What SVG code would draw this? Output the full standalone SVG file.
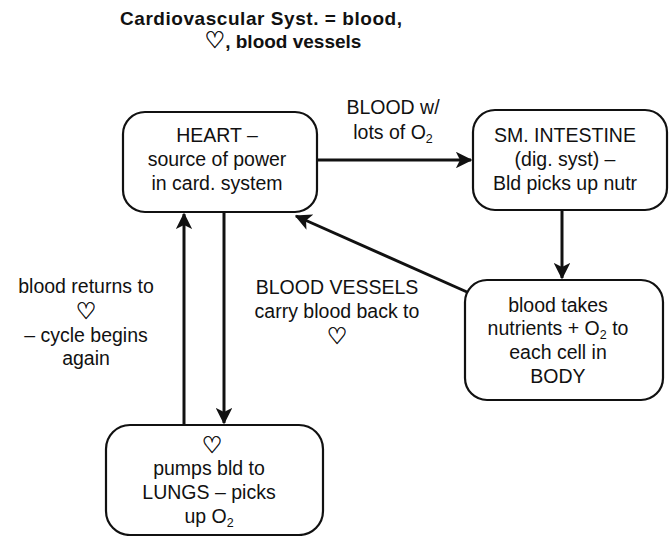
<svg xmlns="http://www.w3.org/2000/svg" width="670" height="536" viewBox="0 0 670 536">
<style>
.box{fill:#fff;stroke:#111;stroke-width:2.2}
.t{font-family:"Liberation Sans",Arial,sans-serif;font-size:19.5px;fill:#111;text-anchor:middle}
.ttl{font-family:"Liberation Sans",Arial,sans-serif;font-size:19px;font-weight:bold;fill:#111;text-anchor:middle}
.h{font-family:"DejaVu Sans",sans-serif;font-size:23px;stroke:#111;stroke-width:0.5}
.sub{font-size:12.5px}
.c{fill:none;stroke:#111;stroke-width:3}
</style>
<defs>
<marker id="ah" viewBox="0 0 12 12" refX="11" refY="6" markerWidth="5.5" markerHeight="5.5" orient="auto" markerUnits="strokeWidth">
<path d="M0,0 L12,6 L0,12 L3,6 Z" fill="#111"/>
</marker>
</defs>
<rect width="670" height="536" fill="#fff"/>
<g id="title">
<text class="ttl" x="261" y="25" textLength="282" lengthAdjust="spacing">Cardiovascular Syst. = blood,</text>
<text class="ttl" x="283" y="48"><tspan class="h" font-weight="normal">♡</tspan>, blood vessels</text>
</g>
<g id="connectors">
<line class="c" x1="317" y1="160" x2="471" y2="160" marker-end="url(#ah)"/>
<line class="c" x1="562" y1="210" x2="562" y2="278" marker-end="url(#ah)"/>
<line class="c" x1="467" y1="292" x2="296" y2="216" marker-end="url(#ah)"/>
<line class="c" x1="224" y1="212" x2="224" y2="423" marker-end="url(#ah)"/>
<line class="c" x1="184" y1="425" x2="184" y2="214" marker-end="url(#ah)"/>
</g>
<g id="label-blood-o2">
<text class="t" x="393" y="114">BLOOD w/</text>
<text class="t" x="393" y="139">lots of O<tspan class="sub" dy="4">2</tspan></text>
</g>
<g id="label-returns">
<text class="t" x="86" y="293">blood returns to</text>
<text class="t h" x="86" y="319">♡</text>
<text class="t" x="86" y="342">– cycle begins</text>
<text class="t" x="86" y="365">again</text>
</g>
<g id="label-vessels">
<text class="t" x="337" y="294">BLOOD VESSELS</text>
<text class="t" x="337" y="318">carry blood back to</text>
<text class="t h" x="337" y="344">♡</text>
</g>
<g id="heart">
<rect class="box" x="123" y="112" width="194" height="100" rx="22"/>
<text class="t" x="217" y="142">HEART –</text>
<text class="t" x="217" y="166">source of power</text>
<text class="t" x="217" y="190">in card. system</text>
</g>
<g id="intestine">
<rect class="box" x="473" y="110" width="194" height="100" rx="22"/>
<text class="t" x="565" y="142">SM. INTESTINE</text>
<text class="t" x="565" y="166">(dig. syst) –</text>
<text class="t" x="565" y="190">Bld picks up nutr</text>
</g>
<g id="body">
<rect class="box" x="465" y="280" width="198" height="120" rx="22"/>
<text class="t" x="558" y="312">blood takes</text>
<text class="t" x="558" y="335">nutrients + O<tspan class="sub" dy="4">2</tspan><tspan dy="-4"> to</tspan></text>
<text class="t" x="558" y="359">each cell in</text>
<text class="t" x="558" y="383">BODY</text>
</g>
<g id="lungs">
<rect class="box" x="106" y="425" width="217" height="110" rx="24"/>
<text class="t h" x="212" y="453">♡</text>
<text class="t" x="209" y="475">pumps bld to</text>
<text class="t" x="209" y="499">LUNGS – picks</text>
<text class="t" x="209" y="523">up O<tspan class="sub" dy="4">2</tspan></text>
</g>
</svg>
